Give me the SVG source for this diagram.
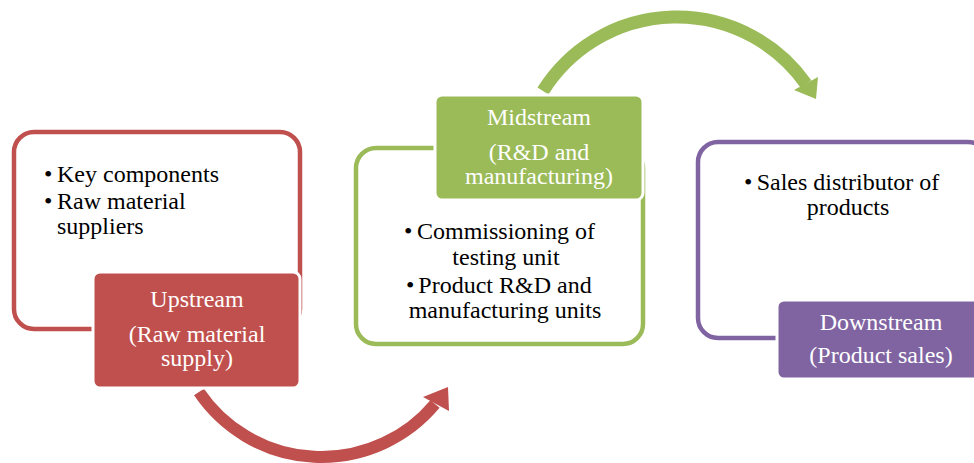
<svg xmlns="http://www.w3.org/2000/svg" width="974" height="463" viewBox="0 0 974 463">
<style>
.t{font-family:"Liberation Serif","Times New Roman",serif;font-size:24px;fill:#000}
.w{font-family:"Liberation Serif","Times New Roman",serif;font-size:24px;fill:#fff;text-anchor:middle}
.c{text-anchor:middle}
.o{fill:#fff;stroke-width:4.5}
.f{stroke:#fff;stroke-width:3}
</style>
<rect width="974" height="463" fill="#fff"/>
<g id="connectors">
<path d="M199,392 A148,148 0 0 0 435,404" fill="none" stroke="#C0504D" stroke-width="12"/>
<polygon points="448,387 423,397 449,411" fill="#C0504D"/>
<path d="M543,91 A158,158 0 0 1 806,84" fill="none" stroke="#9BBB59" stroke-width="13"/>
<polygon points="816,99 794,90 818,77" fill="#9BBB59"/>
</g>
<g id="upstream">
<rect class="o" x="14" y="132" width="286" height="197" rx="20" stroke="#C0504D"/>
<text class="t" x="44" y="182">•</text>
<text class="t" x="57" y="182">Key components</text>
<text class="t" x="44" y="209">•</text>
<text class="t" x="57" y="209">Raw material</text>
<text class="t" x="57" y="234">suppliers</text>
<rect class="f" x="93" y="272" width="207" height="116" rx="7" fill="#C0504D"/>
<text class="w" x="197" y="307">Upstream</text>
<text class="w" x="197" y="342">(Raw material</text>
<text class="w" x="197" y="366">supply)</text>
</g>
<g id="midstream">
<rect class="o" x="356" y="148" width="287" height="196" rx="20" stroke="#9BBB59"/>
<text class="t" x="404" y="239">•</text>
<text class="t c" x="506" y="239">Commissioning of</text>
<text class="t c" x="506" y="265">testing unit</text>
<text class="t" x="406" y="293">•</text>
<text class="t c" x="505" y="293">Product R&amp;D and</text>
<text class="t c" x="505" y="318">manufacturing units</text>
<rect class="f" x="435" y="95" width="208" height="105" rx="7" fill="#9BBB59"/>
<text class="w" x="539" y="125">Midstream</text>
<text class="w" x="539" y="160">(R&amp;D and</text>
<text class="w" x="539" y="184">manufacturing)</text>
</g>
<g id="downstream">
<rect class="o" x="698" y="142" width="290" height="196" rx="20" stroke="#8064A2"/>
<text class="t" x="744" y="190">•</text>
<text class="t c" x="848" y="190">Sales distributor of</text>
<text class="t c" x="848" y="215">products</text>
<rect class="f" x="777" y="300" width="210" height="79" rx="7" fill="#8064A2"/>
<text class="w" x="881" y="330">Downstream</text>
<text class="w" x="881" y="363">(Product sales)</text>
</g>
</svg>
